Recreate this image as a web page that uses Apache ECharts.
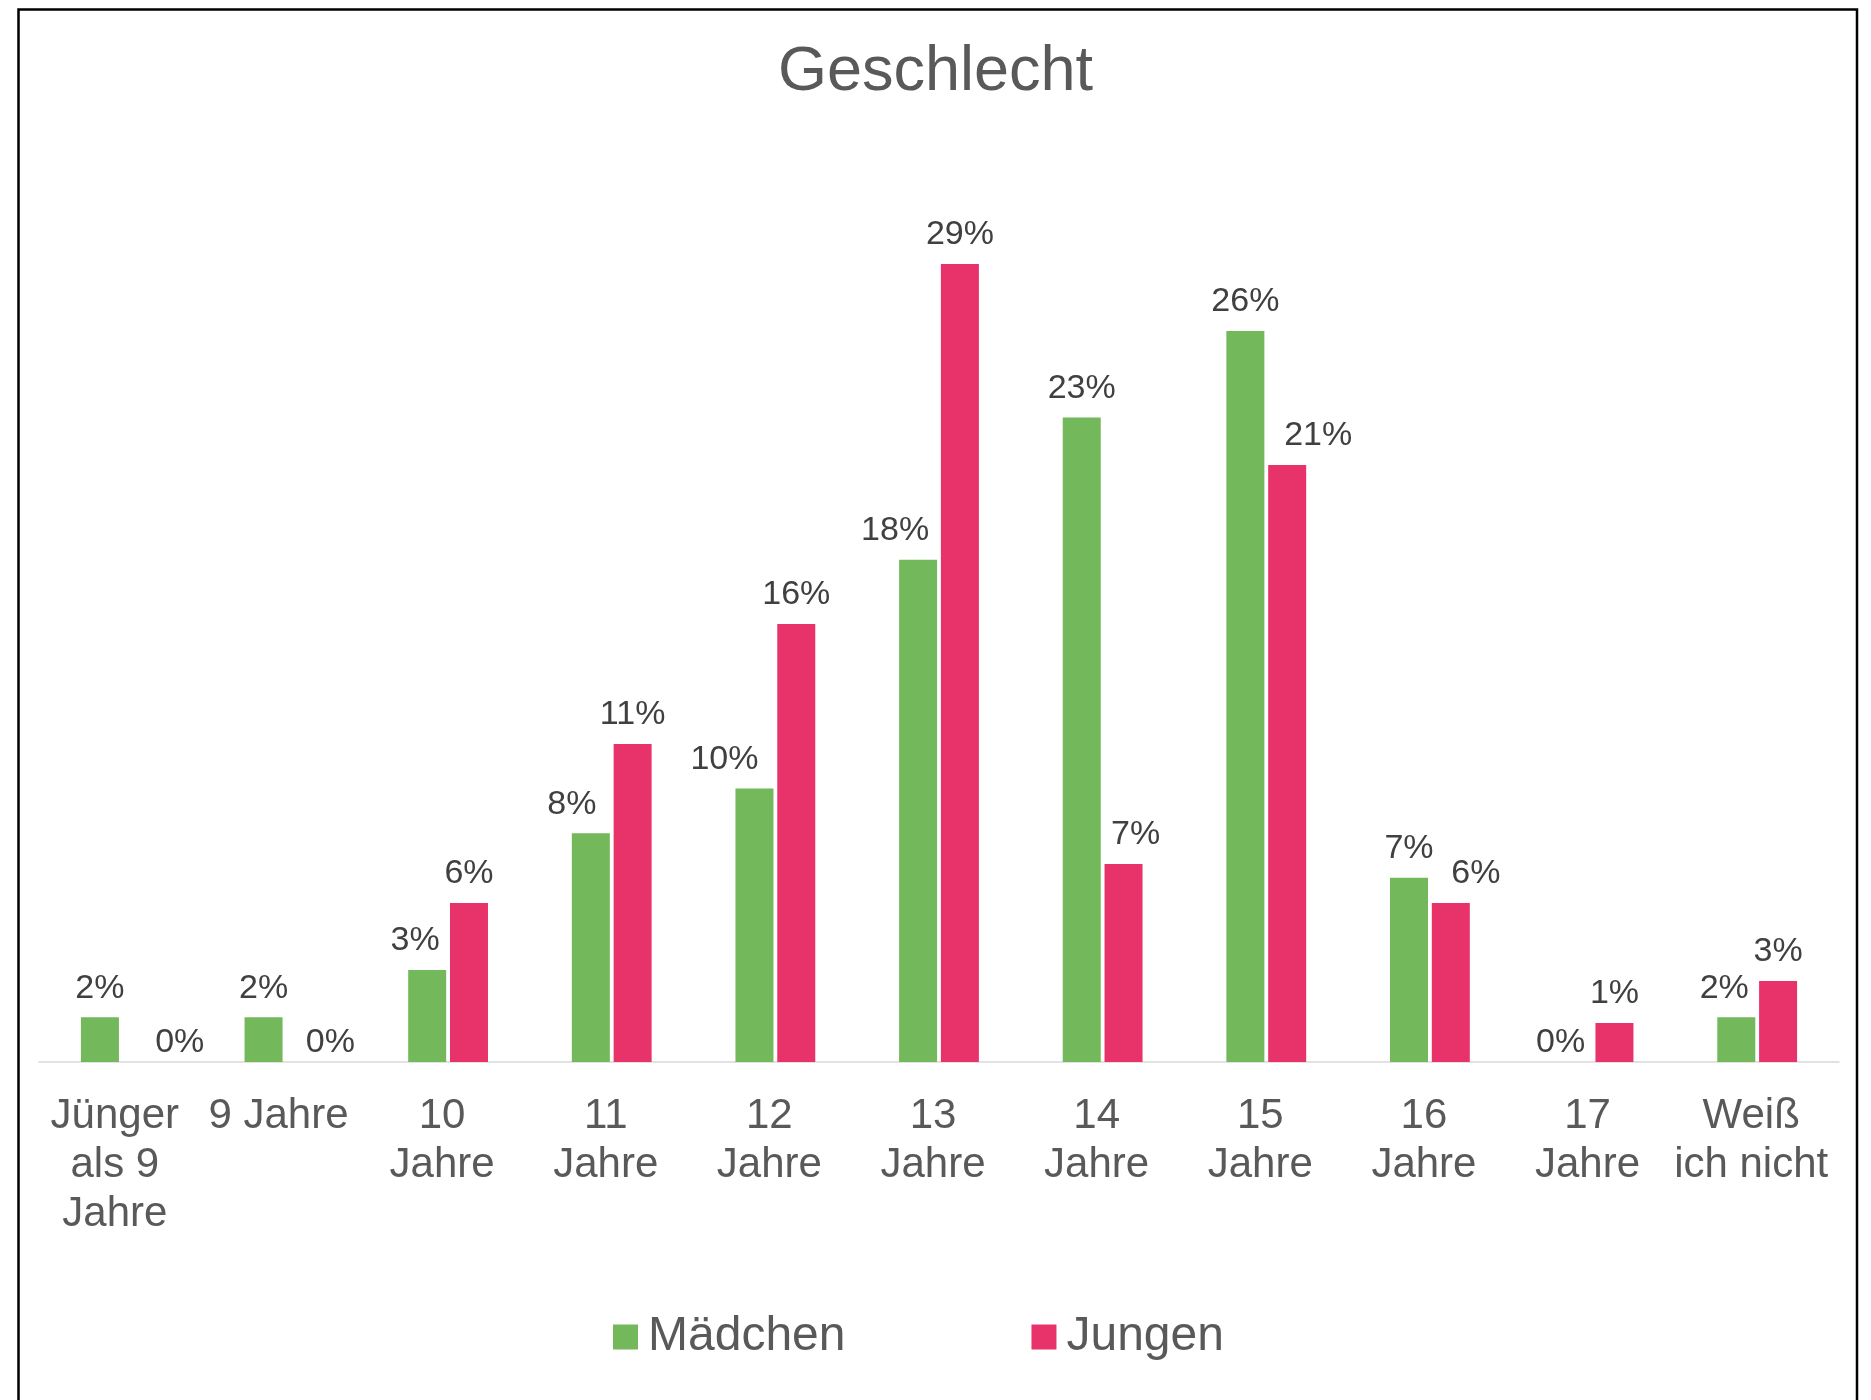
<!DOCTYPE html>
<html lang="de">
<head>
    <meta charset="UTF-8">
    <title>Geschlecht</title>
    <script src="https://cdn.jsdelivr.net/npm/echarts@6/dist/echarts.min.js"></script>
    <style>
        html, body {
            margin: 0;
            padding: 0;
            background: #fff;
        }
        #main {
            width: 1871px;
            height: 1400px;
        }
    </style>
</head>
<body>
<div id="main"></div>
<script type="text/javascript">
    // Altersgruppen
    var categories = ['Jünger\nals 9\nJahre', '9 Jahre', '10\nJahre', '11\nJahre', '12\nJahre', '13\nJahre',
        '14\nJahre', '15\nJahre', '16\nJahre', '17\nJahre', 'Weiß\nich nicht'];

    // Anteile in Prozent
    var maedchen = [1.6, 1.6, 3.3, 8.2, 9.8, 18.0, 23.1, 26.2, 6.6, 0, 1.6];
    var jungen = [0, 0, 5.7, 11.4, 15.7, 28.6, 7.1, 21.4, 5.7, 1.4, 2.9];

    // seitliche Verschiebung der Beschriftungen (wie im Original)
    var shiftM = [0, 0, -12, -19, -30, -23, 0, 0, 0, -12, -12];
    var shiftJ = [38, 25, 0, 0, 0, 0, 12, 31, 25, 0, 0];

    var fontFam = '"Liberation Sans", Arial, sans-serif';

    function buildData(values, shifts) {
        return values.map(function (v, i) {
            return {
                value: v,
                label: {
                    distance: v === 0 ? 2 : 12,
                    offset: [shifts[i], 0]
                }
            };
        });
    }

    function pct(p) {
        return Math.round(p.value) + '%';
    }

    var myChart = echarts.init(document.getElementById('main'));

    var option = {
        backgroundColor: '#fff',
        animation: false,
        title: {
            text: 'Geschlecht',
            left: 'center',
            top: 36,
            textStyle: {
                fontFamily: fontFam,
                fontSize: 63,
                fontWeight: 'normal',
                color: '#595959'
            }
        },
        legend: {
            left: 613,
            top: 1313,
            padding: 0,
            itemWidth: 25,
            itemHeight: 25,
            itemGap: 186,
            icon: 'rect',
            textStyle: {
                fontFamily: fontFam,
                fontSize: 48,
                color: '#595959',
                padding: [0, 0, 0, 5]
            },
            data: ['Mädchen', 'Jungen']
        },
        grid: {
            left: 39,
            right: 32,
            top: 225,
            bottom: 338,
            containLabel: false
        },
        xAxis: {
            type: 'category',
            data: categories,
            axisLine: {lineStyle: {color: '#D9D9D9', width: 1.5}},
            axisTick: {show: false},
            axisLabel: {
                interval: 0,
                margin: 30,
                padding: [0, 12, 0, 0],
                fontFamily: fontFam,
                fontSize: 42,
                lineHeight: 49,
                color: '#595959'
            }
        },
        yAxis: {
            type: 'value',
            min: 0,
            max: 30,
            show: false,
            splitLine: {show: false}
        },
        graphic: [
            {
                type: 'rect',
                shape: {x: 18.5, y: 9.5, width: 1838.5, height: 1420},
                style: {fill: 'none', stroke: '#000', lineWidth: 2.5},
                silent: true
            }
        ],
        series: [
            {
                name: 'Mädchen',
                type: 'bar',
                barWidth: 38,
                barGap: '10%',
                itemStyle: {color: '#73B85A'},
                label: {
                    show: true,
                    position: 'top',
                    fontFamily: fontFam,
                    fontSize: 34,
                    color: '#404040',
                    formatter: pct
                },
                data: buildData(maedchen, shiftM)
            },
            {
                name: 'Jungen',
                type: 'bar',
                barWidth: 38,
                barGap: '10%',
                itemStyle: {color: '#E8336A'},
                label: {
                    show: true,
                    position: 'top',
                    fontFamily: fontFam,
                    fontSize: 34,
                    color: '#404040',
                    formatter: pct
                },
                data: buildData(jungen, shiftJ)
            }
        ]
    };

    myChart.setOption(option);
</script>
</body>
</html>
